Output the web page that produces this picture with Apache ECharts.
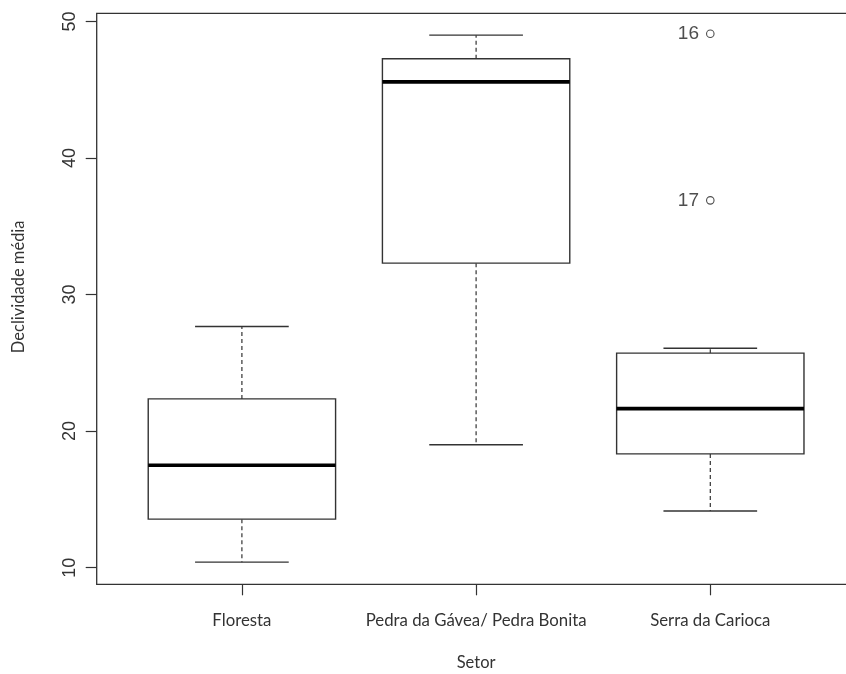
<!DOCTYPE html>
<html>
<head>
<meta charset="utf-8">
<script src="https://cdn.jsdelivr.net/npm/echarts@6/dist/echarts.min.js"></script>
<style>
html,body{margin:0;padding:0;background:#fff;}
#chart{width:846px;height:674px;}
</style>
</head>
<body>
<div id="chart"></div>
<script>
// ---- data ----
const categories = ['Floresta', 'Pedra da Gávea/ Pedra Bonita', 'Serra da Carioca'];
const categoryPositions = [1, 2, 3];
const whiskerLow  = [10.40, 19.00, 14.15];
const quartile1   = [13.55, 32.30, 18.33];
const medians     = [17.50, 45.58, 21.65];
const quartile3   = [22.36, 47.27, 25.71];
const whiskerHigh = [27.66, 49.00, 26.07];
const outlierPositions = [3, 3];
const outlierValues    = [49.1, 36.9];
const outlierLabels    = ['16', '17'];
const yTicks = [10, 20, 30, 40, 50];

// ---- build ----
const boxData = categories.map((c, i) => [
  categoryPositions[i], whiskerLow[i], quartile1[i], medians[i], quartile3[i], whiskerHigh[i]
]);
const outData = outlierValues.map((v, i) => ({
  value: [outlierPositions[i], v],
  label: { formatter: outlierLabels[i] }
}));

const lineCol = '#333';
const chart = echarts.init(document.getElementById('chart'), null, { renderer: 'canvas' });

function renderBox(params, api) {
  const x = api.value(0);
  const pLo = api.coord([x, api.value(1)]);
  const pQ1 = api.coord([x, api.value(2)]);
  const pMd = api.coord([x, api.value(3)]);
  const pQ3 = api.coord([x, api.value(4)]);
  const pHi = api.coord([x, api.value(5)]);
  const half = api.size([0.8, 0])[0] / 2;
  const capHalf = api.size([0.4, 0])[0] / 2;
  const cx = pMd[0];
  const dashed = { stroke: lineCol, lineWidth: 1.2, lineDash: [4, 3] };
  const solid = { stroke: lineCol, lineWidth: 1.3 };
  return {
    type: 'group',
    children: [
      { type: 'line', shape: { x1: cx, y1: pQ3[1], x2: cx, y2: pHi[1] }, style: dashed },
      { type: 'line', shape: { x1: cx, y1: pQ1[1], x2: cx, y2: pLo[1] }, style: dashed },
      { type: 'line', shape: { x1: cx - capHalf, y1: pHi[1], x2: cx + capHalf, y2: pHi[1] }, style: solid },
      { type: 'line', shape: { x1: cx - capHalf, y1: pLo[1], x2: cx + capHalf, y2: pLo[1] }, style: solid },
      { type: 'rect', shape: { x: cx - half, y: pQ3[1], width: 2 * half, height: pQ1[1] - pQ3[1] },
        style: { fill: '#fff', stroke: lineCol, lineWidth: 1.4 } },
      { type: 'line', shape: { x1: cx - half, y1: pMd[1], x2: cx + half, y2: pMd[1] },
        style: { stroke: '#000', lineWidth: 3.6 } }
    ]
  };
}

chart.setOption({
  backgroundColor: '#fff',
  animation: false,
  grid: {
    left: 96.7, top: 13.3, height: 571, width: 758.8,
    outerBoundsMode: 'none',
    containLabel: false,
    show: true, borderColor: lineCol, borderWidth: 1.3, backgroundColor: 'transparent'
  },
  xAxis: {
    type: 'value',
    min: 0.38, max: 3.62,
    name: 'Setor',
    nameLocation: 'middle',
    nameGap: 70,
    nameTextStyle: { fontFamily: 'Lato', fontSize: 16.5, color: '#333' },
    axisLine: { show: false },
    splitLine: { show: false },
    axisTick: { show: true, customValues: categoryPositions, length: 11, lineStyle: { color: lineCol, width: 1.2 } },
    axisLabel: {
      customValues: categoryPositions,
      formatter: v => categories[categoryPositions.indexOf(Math.round(v))] || '',
      margin: 28,
      fontFamily: 'Lato', fontSize: 16.8, color: '#333'
    }
  },
  yAxis: {
    type: 'value',
    min: 8.78, max: 50.6,
    name: 'Declividade média',
    nameLocation: 'middle',
    nameRotate: 90,
    nameGap: 70,
    nameTextStyle: { fontFamily: 'Lato', fontSize: 16.5, color: '#333', padding: [0, 0, 0, 24] },
    axisLine: { show: false },
    splitLine: { show: false },
    axisTick: { show: true, customValues: yTicks, length: 11, lineStyle: { color: lineCol, width: 1.2 } },
    axisLabel: {
      customValues: yTicks,
      rotate: 90,
      margin: 18,
      fontFamily: 'Liberation Sans', fontSize: 18, color: '#333'
    }
  },
  series: [
    {
      type: 'custom',
      renderItem: renderBox,
      data: boxData,
      encode: { x: 0, y: [1, 2, 3, 4, 5] },
      z: 2
    },
    {
      type: 'scatter',
      data: outData,
      symbol: 'circle',
      symbolSize: 7.5,
      itemStyle: { color: '#fff', borderColor: '#222', borderWidth: 1.1 },
      label: {
        show: true, position: 'left', distance: 7,
        fontFamily: 'Liberation Sans', fontSize: 19, color: '#222'
      },
      z: 3
    }
  ]
});
</script>
</body>
</html>
